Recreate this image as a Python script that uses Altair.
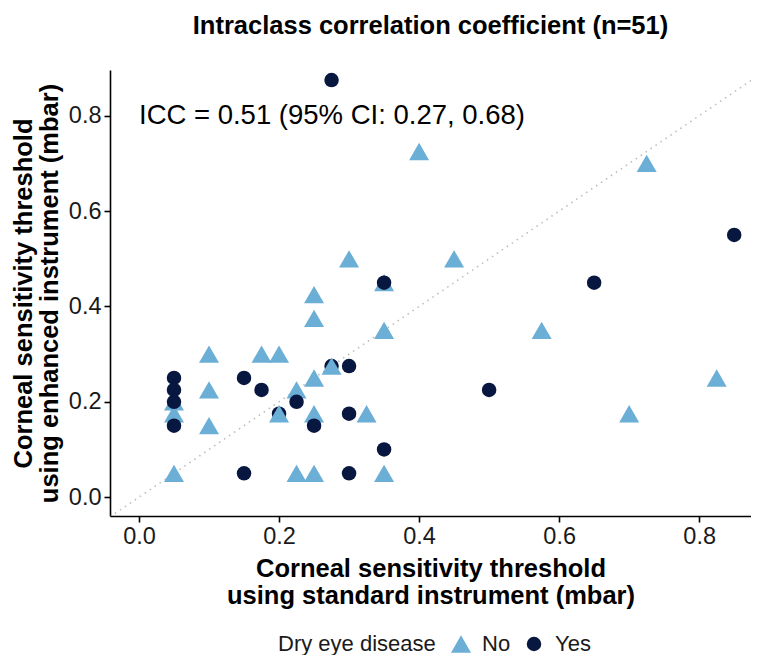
import altair as alt
import pandas as pd

# Data (order controls overdraw)
x_std = [0.275, 0.2,
         0.4, 0.725, 0.3, 0.45, 0.35, 0.25, 0.25, 0.35, 0.575, 0.1, 0.175, 0.2,
         0.275, 0.25, 0.225, 0.05, 0.05, 0.1, 0.1, 0.2, 0.25, 0.325, 0.05,
         0.225, 0.25, 0.35, 0.7, 0.825,
         0.275, 0.85, 0.65, 0.35, 0.5, 0.3, 0.15, 0.175, 0.225, 0.25, 0.3,
         0.35, 0.15, 0.3, 0.05, 0.05, 0.05, 0.05]
y_enh = [0.275, 0.175,
         0.725, 0.70, 0.50, 0.50, 0.45, 0.425, 0.375, 0.35, 0.35, 0.30, 0.30, 0.30,
         0.275, 0.25, 0.225, 0.20, 0.175, 0.225, 0.15, 0.175, 0.175, 0.175, 0.05,
         0.05, 0.05, 0.05, 0.175, 0.25,
         0.875, 0.55, 0.45, 0.45, 0.225, 0.275, 0.25, 0.225, 0.20, 0.15, 0.175,
         0.10, 0.05, 0.05, 0.25, 0.225, 0.20, 0.15]
dry = (["Yes"] * 2 + ["No"] * 28 + ["Yes"] * 18)

groups = ["No", "Yes"]
group_colors = ["#6BAED6", "#08173F"]
group_shapes = ["triangle-up", "circle"]
group_sizes = [400, 210]

x_domain = [-0.0414, 0.874]
y_domain = [-0.0395, 0.896]
x_ticks = [0.0, 0.2, 0.4, 0.6, 0.8]
y_ticks = [0.0, 0.2, 0.4, 0.6, 0.8]

icc_label = "ICC = 0.51 (95% CI: 0.27, 0.68)"
icc_pos = {"x": 0.0, "y": 0.8}

df = pd.DataFrame({"x": x_std, "y": y_enh, "dry": dry, "order": range(len(dry))})
diag_end = max(x_domain[1], y_domain[1])
diag = pd.DataFrame({"x": [x_domain[0], diag_end], "y": [x_domain[0], diag_end]})
ann = pd.DataFrame({"x": [icc_pos["x"]], "y": [icc_pos["y"]], "t": [icc_label]})

FONT = "Liberation Sans"
LEG_TITLE = "Dry eye disease"

xs = alt.Scale(domain=x_domain, nice=False, zero=False)
ys = alt.Scale(domain=y_domain, nice=False, zero=False)

xax = alt.Axis(values=x_ticks, format=".1f", grid=False, labelPadding=2, titlePadding=9,
               title=["Corneal sensitivity threshold", "using standard instrument (mbar)"])
yax = alt.Axis(values=y_ticks, format=".1f", grid=False, labelPadding=3, titlePadding=6,
               titleLineHeight=26,
               title=["Corneal sensitivity threshold", "using enhanced instrument (mbar)"])

line = alt.Chart(diag).mark_line(color="#BEBEBE", strokeDash=[1.5, 4.5], strokeWidth=1.6,
                                 clip=True).encode(
    x=alt.X("x:Q", scale=xs, axis=xax),
    y=alt.Y("y:Q", scale=ys, axis=yax),
)

leg = alt.Legend(title=LEG_TITLE, orient="none", legendX=168, legendY=563,
                 direction="horizontal", titleOrient="left")

pts = alt.Chart(df).mark_point(filled=True, opacity=1, strokeWidth=0).encode(
    x=alt.X("x:Q", scale=xs),
    y=alt.Y("y:Q", scale=ys),
    color=alt.Color("dry:N", scale=alt.Scale(domain=groups, range=group_colors), legend=leg),
    shape=alt.Shape("dry:N", scale=alt.Scale(domain=groups, range=group_shapes), legend=leg),
    size=alt.Size("dry:N", scale=alt.Scale(domain=groups, range=group_sizes), legend=leg),
    order=alt.Order("order:Q"),
)

txt = alt.Chart(ann).mark_text(align="left", baseline="middle", fontSize=27.5,
                               font=FONT, color="black").encode(
    x=alt.X("x:Q", scale=xs),
    y=alt.Y("y:Q", scale=ys),
    text="t:N",
)

chart = alt.layer(line, pts, txt).properties(
    width=641, height=446,
    title=alt.TitleParams("Intraclass correlation coefficient (n=51)", fontSize=25.5,
                          font=FONT, fontWeight="bold", color="black", offset=31),
    autosize=alt.AutoSizeParams(type="none"),
    padding={"left": 102, "top": 62, "right": 0, "bottom": 139},
).configure_view(stroke=None).configure_axis(
    domainColor="black", domainWidth=1.6, tickColor="black", tickWidth=1.6, tickSize=6,
    labelFont=FONT, labelFontSize=23.5, labelColor="#1A1A1A",
    titleFont=FONT, titleFontSize=25.5, titleFontWeight="bold", titleColor="black",
    titleLineHeight=27,
).configure_legend(
    titleFont=FONT, titleFontSize=22, titleFontWeight="normal", titleColor="#1A1A1A",
    labelFont=FONT, labelFontSize=22, labelColor="#1A1A1A",
    symbolStrokeWidth=0, columnPadding=12, titlePadding=14, labelOffset=10,
)

chart.save("out.html", embed_options={"renderer": "svg", "actions": False})
